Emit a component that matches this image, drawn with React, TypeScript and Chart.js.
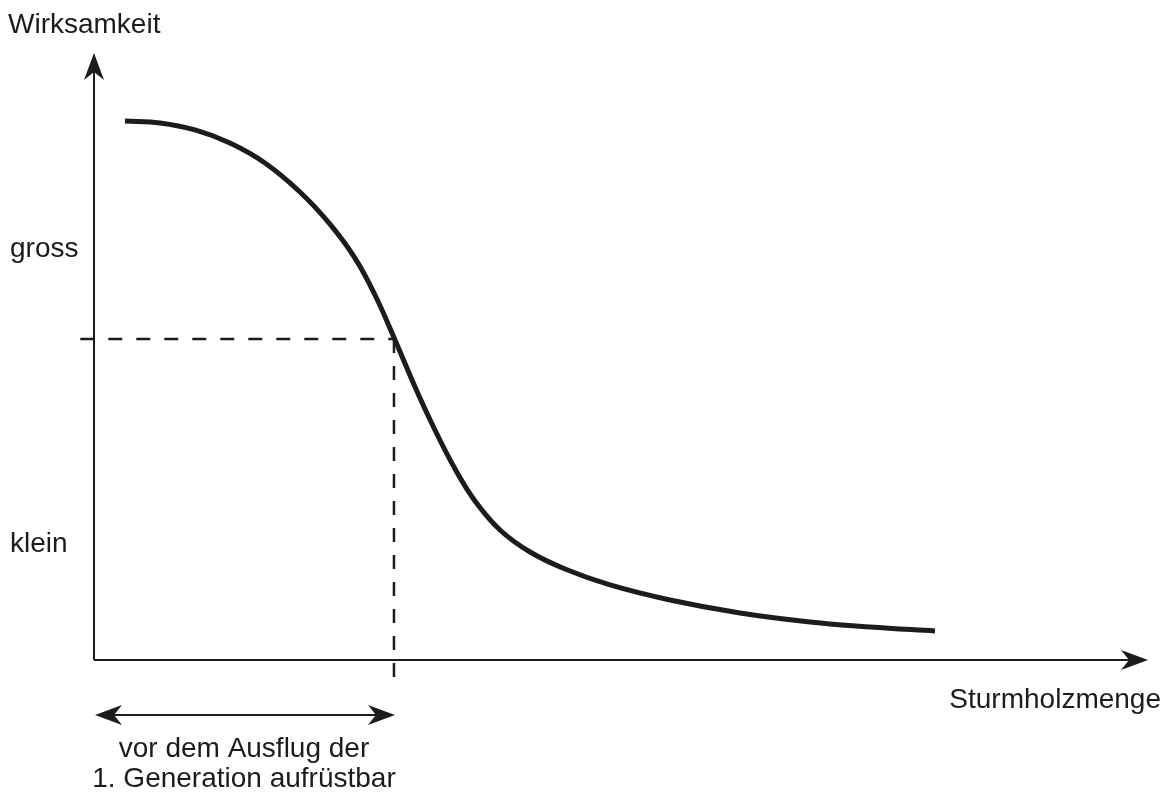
import React, { useEffect, useRef } from "react";
import { Chart, registerables } from "chart.js";

Chart.register(...registerables);

// Curve: Wirksamkeit vs. Sturmholzmenge (relative units 0..100)
const CURVE_X = [2.94, 6.26, 9.58, 12.9, 16.22, 19.54, 22.39, 24.76, 26.66, 28.56, 30.46, 32.35, 34.25, 36.15, 38.52, 41.37, 44.69, 48.96, 54.65, 61.29, 67.93, 73.62, 79.79];
const CURVE_Y = [88.8, 88.47, 87.32, 85.17, 81.88, 77.1, 71.8, 66.2, 60.13, 52.72, 44.98, 37.89, 31.5, 26.2, 21.42, 17.79, 14.99, 12.36, 9.88, 7.74, 6.26, 5.44, 4.78];

// Reference (dashed) point
const REF_X = [28.46];
const REF_Y = [52.9];

// Y tick labels
const Y_TICK_LABELS = ["gross", "klein"];
const Y_TICK_VALUES = [67.6, 18.9];

const Y_TITLE = "Wirksamkeit";
const X_TITLE = "Sturmholzmenge";
const RANGE_LABEL = ["vor dem Ausflug der", "1. Generation aufrüstbar"];

const INK = "#1c1c1c";
const FONT = '28px "Liberation Sans", Arial, Helvetica, sans-serif';

function arrowHead(ctx: CanvasRenderingContext2D, tx: number, ty: number, dx: number, dy: number) {
  const len = 27, half = 10, notch = 8;
  const px = -dy, py = dx;
  ctx.beginPath();
  ctx.moveTo(tx, ty);
  ctx.lineTo(tx - dx * len + px * half, ty - dy * len + py * half);
  ctx.lineTo(tx - dx * (len - notch), ty - dy * (len - notch));
  ctx.lineTo(tx - dx * len - px * half, ty - dy * len - py * half);
  ctx.closePath();
  ctx.fill();
}

const annotations = {
  id: "annotations",
  beforeDatasetsDraw(chart: any) {
    const { ctx, chartArea: a, scales } = chart;
    const xs = scales.x, ys = scales.y;
    const x0 = xs.getPixelForValue(0);
    const y0 = ys.getPixelForValue(0);
    ctx.save();
    ctx.strokeStyle = INK;
    ctx.fillStyle = INK;
    ctx.lineWidth = 2;
    // axes
    ctx.beginPath();
    ctx.moveTo(x0, y0);
    ctx.lineTo(a.right - 10, y0);
    ctx.moveTo(x0, y0);
    ctx.lineTo(x0, a.top + 10);
    ctx.stroke();
    arrowHead(ctx, a.right, y0, 1, 0);
    arrowHead(ctx, x0, a.top, 0, -1);

    // double arrow for range
    const xr = xs.getPixelForValue(REF_X[0]);
    const ya = y0 + 55;
    ctx.beginPath();
    ctx.moveTo(x0 + 10, ya);
    ctx.lineTo(xr - 10, ya);
    ctx.stroke();
    arrowHead(ctx, x0 + 1, ya, -1, 0);
    arrowHead(ctx, xr + 1, ya, 1, 0);

    // texts
    ctx.font = FONT;
    ctx.textBaseline = "alphabetic";
    ctx.textAlign = "left";
    ctx.fillText(Y_TITLE, 8, a.top - 20);
    Y_TICK_LABELS.forEach((lab, i) => {
      ctx.fillText(lab, 10, ys.getPixelForValue(Y_TICK_VALUES[i]) + 7);
    });
    ctx.textAlign = "right";
    ctx.fillText(X_TITLE, a.right + 13, y0 + 48);
    ctx.textAlign = "center";
    const cx = (x0 + xr) / 2;
    ctx.fillText(RANGE_LABEL[0], cx, y0 + 97);
    ctx.fillText(RANGE_LABEL[1], cx, y0 + 127);
    ctx.restore();
  },
};

export default function App() {
  const ref = useRef<HTMLCanvasElement>(null);
  useEffect(() => {
    if (!ref.current) return;
    const curve = CURVE_X.map((x, i) => ({ x, y: CURVE_Y[i] }));
    const hDash = [
      { x: -1.3, y: REF_Y[0] },
      { x: REF_X[0], y: REF_Y[0] },
    ];
    const vDash = [
      { x: REF_X[0], y: REF_Y[0] },
      { x: REF_X[0], y: -2.9 },
    ];
    const chart = new Chart(ref.current, {
      type: "scatter",
      data: {
        datasets: [
          {
            data: hDash,
            showLine: true,
            borderColor: INK,
            borderWidth: 2.5,
            borderDash: [14, 14],
            pointRadius: 0,
            clip: false as any,
          },
          {
            data: vDash,
            showLine: true,
            borderColor: INK,
            borderWidth: 2.5,
            borderDash: [14, 13],
            pointRadius: 0,
            clip: false as any,
          },
          {
            data: curve,
            showLine: true,
            borderColor: INK,
            borderWidth: 5,
            tension: 0.4,
            pointRadius: 0,
            borderCapStyle: "butt",
            clip: false as any,
          },
        ],
      },
      options: {
        responsive: false,
        animation: false,
        layout: { padding: { left: 94, top: 53, right: 18, bottom: 136 } },
        plugins: { legend: { display: false }, tooltip: { enabled: false } },
        scales: {
          x: { type: "linear", min: 0, max: 100, display: false },
          y: { type: "linear", min: 0, max: 100, display: false },
        },
      },
      plugins: [annotations],
    });
    return () => chart.destroy();
  }, []);
  return (
    <div style={{ position: "fixed", left: 0, top: 0, width: 1166, height: 796, background: "#fff" }}>
      <canvas ref={ref} width={1166} height={796} style={{ display: "block" }} />
    </div>
  );
}
